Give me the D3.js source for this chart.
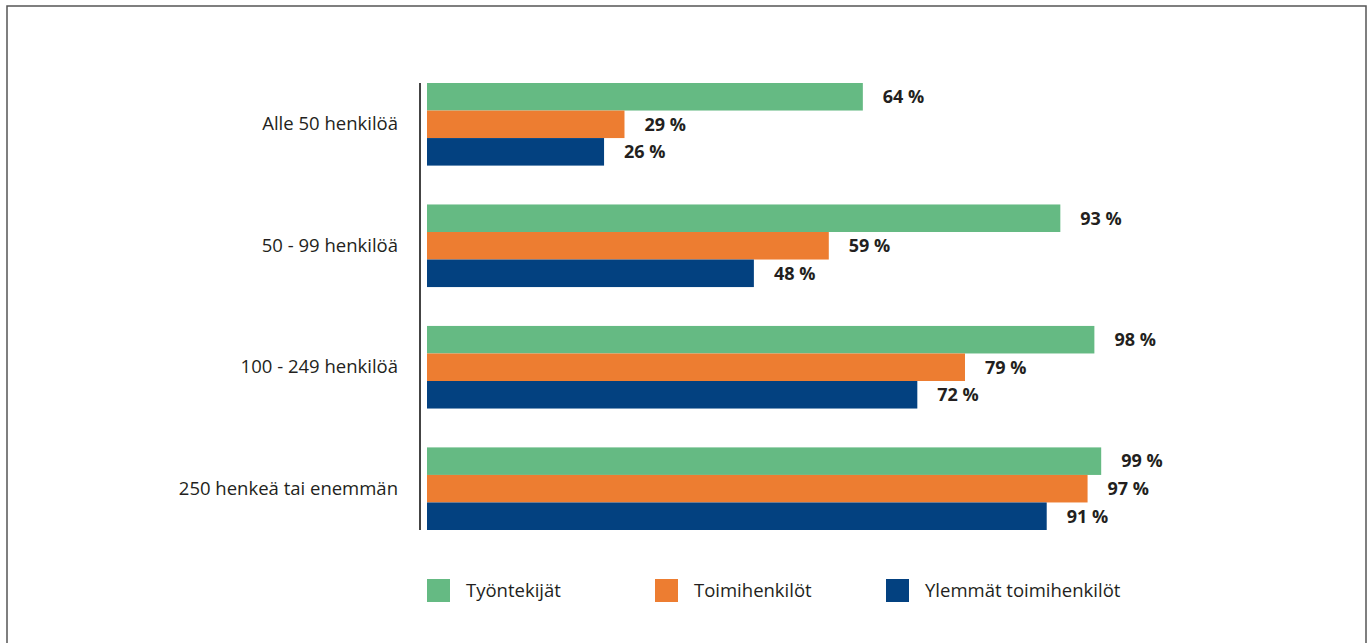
<!DOCTYPE html>
<html>
<head>
<meta charset="utf-8">
<script src="https://cdn.jsdelivr.net/npm/d3@7"></script>
<style>
  html, body { margin: 0; padding: 0; background: #fff; }
  svg { display: block; font-family: "Open Sans", "Noto Sans", sans-serif; }
</style>
</head>
<body>
<svg id="chart" width="1370" height="643"></svg>
<script>
// Company size groups and the share of each personnel group (%)
const categories = ["Alle 50 henkilöä", "50 - 99 henkilöä", "100 - 249 henkilöä", "250 henkeä tai enemmän"];
const seriesNames = ["Työntekijät", "Toimihenkilöt", "Ylemmät toimihenkilöt"];
const tyontekijat = [64, 93, 98, 99];
const toimihenkilot = [29, 59, 79, 97];
const ylemmat = [26, 48, 72, 91];
const seriesColors = ["#65BA83", "#ED7D31", "#034180"];

const seriesValues = [tyontekijat, toimihenkilot, ylemmat];
const rows = categories.map((c, i) => ({
  category: c,
  values: seriesNames.map((s, k) => ({ series: s, value: seriesValues[k][i] }))
}));

const svg = d3.select("#chart");
const textColor = "#231F20";

// outer frame
svg.append("rect")
  .attr("x", 7).attr("y", 6)
  .attr("width", 1359).attr("height", 645)
  .attr("fill", "none").attr("stroke", "#555").attr("stroke-width", 1.5);

const x0 = 427;
const x = d3.scaleLinear().domain([0, 100]).range([x0, x0 + 681]);
const y = d3.scaleBand().domain(categories).range([83, 530]).paddingInner(0.32).paddingOuter(0);
const ySub = d3.scaleBand().domain(seriesNames).range([0, y.bandwidth()]);
const color = d3.scaleOrdinal().domain(seriesNames).range(seriesColors);

const groups = svg.append("g").selectAll("g")
  .data(rows).join("g")
  .attr("transform", d => `translate(0,${y(d.category)})`);

groups.selectAll("rect")
  .data(d => d.values).join("rect")
  .attr("x", x(0))
  .attr("y", d => ySub(d.series))
  .attr("width", d => x(d.value) - x(0))
  .attr("height", ySub.bandwidth())
  .attr("fill", d => color(d.series));

groups.selectAll("text.val")
  .data(d => d.values).join("text")
  .attr("class", "val")
  .attr("x", d => x(d.value) + 20)
  .attr("y", d => ySub(d.series) + ySub.bandwidth() / 2)
  .attr("dy", "0.35em")
  .attr("font-size", 18)
  .attr("font-weight", "bold")
  .attr("fill", textColor)
  .text(d => `${d.value} %`);

// category axis
const yAxis = svg.append("g")
  .attr("transform", "translate(420,0)")
  .call(d3.axisLeft(y).tickSize(0).tickPadding(22));
yAxis.select(".domain").attr("stroke", "#444").attr("stroke-width", 2)
  .attr("d", `M0,${y.range()[0]}V${y.range()[1]}`);
yAxis.selectAll("text")
  .attr("font-family", "\"Open Sans\", \"Noto Sans\", sans-serif")
  .attr("font-size", 18.5).attr("fill", textColor);

// legend
const legendX = [427, 655, 886];
const legend = svg.append("g").selectAll("g")
  .data(seriesNames).join("g")
  .attr("transform", (d, i) => `translate(${legendX[i]},579)`);
legend.append("rect")
  .attr("width", 23).attr("height", 23)
  .attr("fill", d => color(d));
legend.append("text")
  .attr("x", 39).attr("y", 11.5).attr("dy", "0.35em")
  .attr("font-size", 18.5).attr("fill", textColor)
  .text(d => d);
</script>
</body>
</html>
